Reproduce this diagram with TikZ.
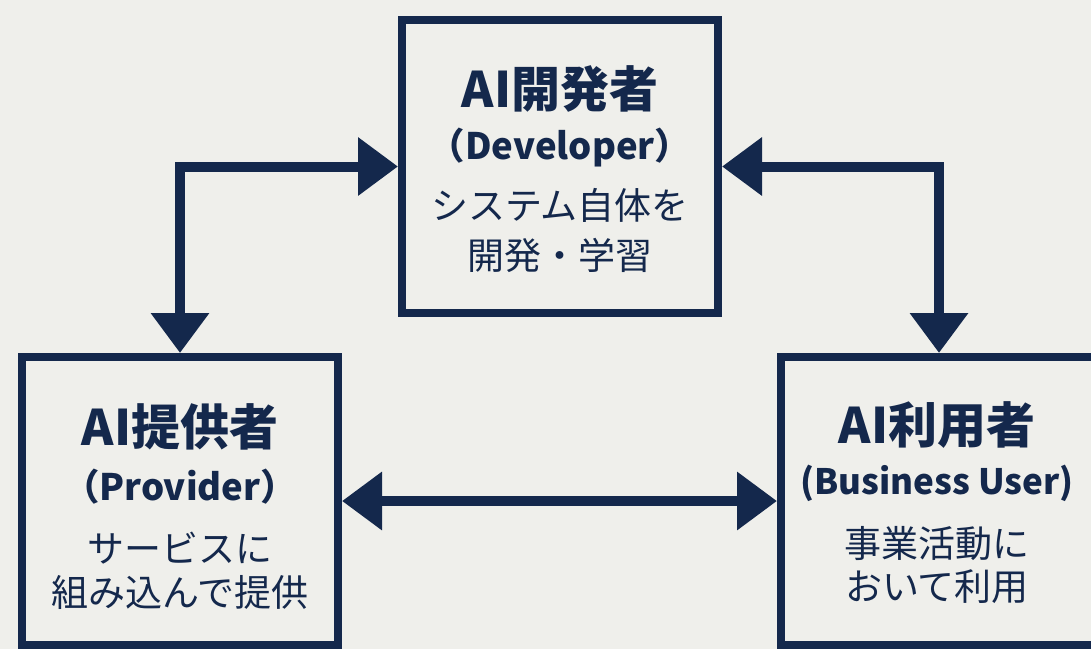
\documentclass[tikz,border=0pt]{standalone}
\usepackage{fontspec}
\setmainfont{Noto Sans CJK JP}
\usetikzlibrary{arrows.meta}
\definecolor{navy}{RGB}{20,40,76}
\definecolor{bg}{RGB}{239,239,235}
\begin{document}
\begin{tikzpicture}[x=1pt,y=-1pt,
 box/.style={draw=navy, line width=8pt, fill=bg, inner sep=0pt, outer sep=4pt, minimum width=316pt},
 conn/.style={draw=navy, line width=10pt, {Triangle[length=40pt,width=56pt]}-{Triangle[length=40pt,width=56pt]}},
 title/.style={text=navy, font=\bfseries\fontsize{49}{52}\selectfont, inner sep=0pt},
 en/.style={text=navy, font=\bfseries\fontsize{36.5}{40}\selectfont, inner sep=0pt},
 desc/.style={text=navy, font=\fontsize{37}{40}\selectfont, inner sep=0pt},
]
\fill[bg] (0,0) rectangle (1091,649);
\useasboundingbox (0,0) rectangle (1091,649);
\clip (0,0) rectangle (1091,649);

\node[box, minimum height=293pt] (dev) at (560,166.5) {};
\node[box, minimum height=288pt] (prov) at (180,501) {};
\node[box, minimum height=288pt] (user) at (939,501) {};

\draw[conn] (prov.north) |- (dev.west);
\draw[conn] (user.north) |- (dev.east);
\draw[conn] (prov.east) -- (user.west);

\node[title] (devT) at (560,89) {AI開発者};
\node[en] (devE) at (560,148) {（Developer）};
\node[desc] (devD1) at (560,205) {システム自体を};
\node[desc] (devD2) at (560,255) {開発・学習};

\node[title] (provT) at (180,427) {AI提供者};
\node[en] (provE) at (180,487) {（Provider）};
\node[desc] (provD1) at (180,548) {サービスに};
\node[desc] (provD2) at (180,592) {組み込んで提供};

\node[title] (userT) at (937,425) {AI利用者};
\node[en, font=\bfseries\fontsize{35}{38}\selectfont] (userE) at (937,483) {(Business User)};
\node[desc] (userD1) at (937,543) {事業活動に};
\node[desc] (userD2) at (937,587) {おいて利用};
\end{tikzpicture}
\end{document}
